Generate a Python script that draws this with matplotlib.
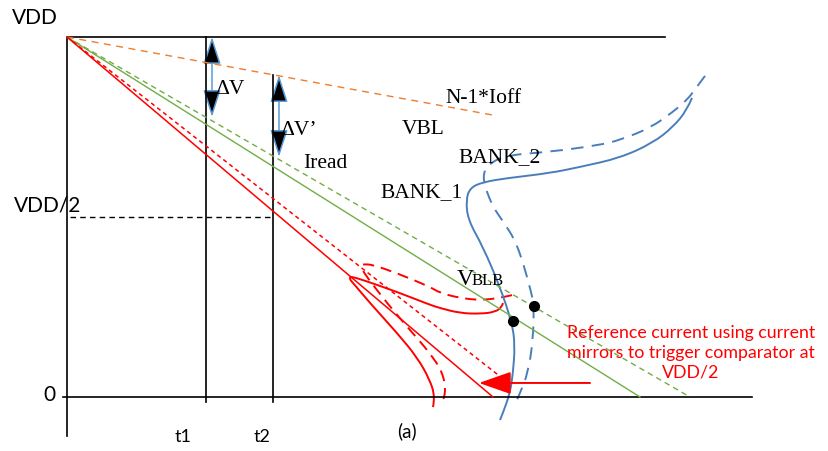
import matplotlib
matplotlib.use("Agg")
import matplotlib.pyplot as plt
from matplotlib.patches import FancyArrowPatch, PathPatch
from matplotlib.path import Path
import numpy as np

plt.rcParams['lines.scale_dashes'] = False

# ---- data (time in arbitrary units, voltage normalised to VDD = 1) ----
t_end_top = 5.98
t1, t2 = 1.39, 2.06
vdd_half = 0.5

ioff_end = (4.30, 0.781)          # N-1*Ioff discharge line end
iread_end = (5.73, 0.0)           # Iread (solid green)
vbl_end = (6.23, 0.0)             # VBL (dashed green)
red_solid_end = (4.26, 0.0)
red_dash_end = (4.40, 0.042)

dV_t, dV_v = 1.45, (1.0, 0.778)
dVp_t, dVp_v = 2.12, (0.894, 0.667)

bank1_t = [6.25, 6.20, 6.06, 5.86, 5.53, 5.13, 4.83, 4.40, 4.16, 4.03, 3.99, 4.01,
           4.16, 4.33, 4.45, 4.48, 4.46, 4.43, 4.36, 4.33]
bank1_v = [0.831, 0.797, 0.750, 0.706, 0.664, 0.639, 0.622, 0.608, 0.597, 0.581,
           0.547, 0.492, 0.417, 0.306, 0.206, 0.144, 0.067, 0.011, -0.044, -0.064]

bank2_t = [6.38, 6.29, 6.20, 6.06, 5.83, 5.53, 5.33, 4.83, 4.40, 4.23, 4.16, 4.18,
           4.26, 4.35, 4.50, 4.63, 4.67, 4.66, 4.61, 4.53, 4.50]
bank2_v = [0.892, 0.858, 0.825, 0.792, 0.747, 0.714, 0.700, 0.681, 0.672, 0.650,
           0.622, 0.583, 0.528, 0.492, 0.428, 0.306, 0.253, 0.158, 0.067, 0.011, -0.008]

loop1_t = [4.36, 4.35, 4.28, 4.13, 3.93, 3.73, 3.63, 3.30, 2.96, 2.86, 2.83, 2.83,
           2.86, 3.03, 3.30, 3.50, 3.63, 3.68, 3.66]
loop1_v = [0.261, 0.250, 0.236, 0.231, 0.233, 0.247, 0.256, 0.292, 0.325, 0.333,
           0.334, 0.326, 0.317, 0.261, 0.178, 0.111, 0.047, 0.000, -0.028]

loop2_t = [4.45, 4.33, 4.13, 3.93, 3.73, 3.63, 3.30, 3.06, 2.97, 2.95, 2.95, 3.00,
           3.20, 3.43, 3.63, 3.76, 3.79, 3.76]
loop2_v = [0.283, 0.275, 0.269, 0.275, 0.289, 0.306, 0.344, 0.367, 0.369, 0.366,
           0.355, 0.333, 0.261, 0.186, 0.122, 0.067, 0.011, -0.008]

dots_t = [4.46, 4.67]
dots_v = [0.211, 0.253]

ref_arrow_t = (5.23, 4.12)
ref_arrow_v = 0.039

RED = '#FF0000'
GREEN = '#70AD47'
ORANGE = '#ED7D31'
BLUE = '#4A7EBB'
ABLUE = '#5B9BD5'

fig = plt.figure(figsize=(8.29, 4.51), dpi=100)
ax = fig.add_axes([0, 0, 1, 1])
ax.set_xlim(-0.67, 7.62)
ax.set_ylim(-0.15, 1.1028)
ax.axis('off')


def smooth_curve(xs, ys, **kw):
    """Draw a smooth quadratic-Bezier path guided by the given points."""
    pts = np.column_stack([xs, ys])
    verts = [pts[0]]
    codes = [Path.MOVETO]
    for i in range(1, len(pts) - 1):
        verts.append(pts[i])
        verts.append((pts[i] + pts[i + 1]) / 2 if i < len(pts) - 2 else pts[i + 1])
        codes += [Path.CURVE3, Path.CURVE3]
    ax.add_patch(PathPatch(Path(verts, codes), fill=False, **kw))


# axes / frame lines
ax.plot([0, t_end_top], [1, 1], color='black', lw=1.2)
ax.plot([-0.04, 6.85], [0, 0], color='black', lw=1.2)
ax.plot([0, 0], [1, -0.108], color='black', lw=1.2)
ax.plot([t1, t1], [1, -0.014], color='black', lw=1.2)
ax.plot([t2, t2], [dVp_v[0], -0.014], color='black', lw=1.2)
ax.plot([0.03, t2], [vdd_half, vdd_half], color='black', lw=1.0, dashes=(4, 3))

# discharge lines
ax.plot([0, ioff_end[0]], [1, ioff_end[1]], color=ORANGE, lw=1.0, dashes=(5, 4))
ax.plot([0, iread_end[0]], [1, iread_end[1]], color=GREEN, lw=1.0)
ax.plot([0, vbl_end[0]], [1, vbl_end[1]], color=GREEN, lw=1.0, dashes=(4, 3))
ax.plot([0, red_solid_end[0]], [1, red_solid_end[1]], color=RED, lw=1.1)
ax.plot([0, red_dash_end[0]], [1, red_dash_end[1]], color=RED, lw=1.1, dashes=(3, 2.5))

# red loops
smooth_curve(loop1_t, loop1_v, edgecolor=RED, lw=1.4)
smooth_curve(loop2_t, loop2_v, edgecolor=RED, lw=1.4, linestyle=(0, (8, 5)))

# blue bank curves
smooth_curve(bank1_t, bank1_v, edgecolor=BLUE, lw=1.4)
smooth_curve(bank2_t, bank2_v, edgecolor=BLUE, lw=1.4, linestyle=(0, (9, 6)))

ax.plot(dots_t, dots_v, 'o', color='black', ms=7, zorder=5)

# delta-V arrows
for tt, (va, vb) in [(dV_t, dV_v), (dVp_t, dVp_v)]:
    ar = FancyArrowPatch((tt, va), (tt, vb),
                         arrowstyle='<|-|>,head_length=17,head_width=5.5',
                         mutation_scale=1, shrinkA=0, shrinkB=0,
                         facecolor='black', edgecolor=ABLUE, lw=1.1)
    ax.add_patch(ar)

# reference arrow
ra = FancyArrowPatch((ref_arrow_t[0], ref_arrow_v), (ref_arrow_t[1], ref_arrow_v),
                     arrowstyle='-|>,head_length=20,head_width=7',
                     mutation_scale=1, shrinkA=0, shrinkB=0,
                     color=RED, lw=1.4)
ax.add_patch(ra)

sans = 'Lato'
serif = 'Liberation Serif'

ax.text(-0.32, 1.053, 'VDD', fontsize=15, family=sans, ha='center', va='center')
ax.text(-0.19, 0.533, 'VDD/2', fontsize=15, family=sans, ha='center', va='center')
ax.text(-0.18, 0.006, '0', fontsize=15, family=sans, ha='center', va='center')
ax.text(1.16, -0.111, 't1', fontsize=13, family=sans, ha='center', va='center')
ax.text(1.95, -0.111, 't2', fontsize=13, family=sans, ha='center', va='center')
ax.text(3.40, -0.094, '(a)', fontsize=13.5, family=sans, ha='center', va='center')

ax.text(1.48, 0.842, 'ΔV', fontsize=15.5, family=serif, ha='left', va='baseline')
ax.text(2.13, 0.728, 'ΔV’', fontsize=15.5, family=serif, ha='left', va='baseline')
ax.text(3.78, 0.817, 'N-1*Ioff', fontsize=15.5, family=serif, ha='left', va='baseline')
ax.text(3.35, 0.731, 'VBL', fontsize=15.5, family=serif, ha='left', va='baseline')
ax.text(2.36, 0.636, 'Iread', fontsize=15.5, family=serif, ha='left', va='baseline')
ax.text(3.91, 0.653, 'BANK_2', fontsize=15.5, family=serif, ha='left', va='baseline')
ax.text(3.13, 0.556, 'BANK_1', fontsize=15.5, family=serif, ha='left', va='baseline')
ax.text(3.90, 0.311, 'V', fontsize=17, family=serif, ha='left', va='baseline')
ax.text(4.05, 0.311, 'BLB', fontsize=12, family=serif, ha='left', va='baseline')

ax.text(6.24, 0.122, 'Reference current using current\nmirrors to trigger comparator at\nVDD/2',
        fontsize=12.8, family=sans, color=RED, ha='center', va='center', linespacing=1.3)

fig.savefig('out.png', dpi=100)
